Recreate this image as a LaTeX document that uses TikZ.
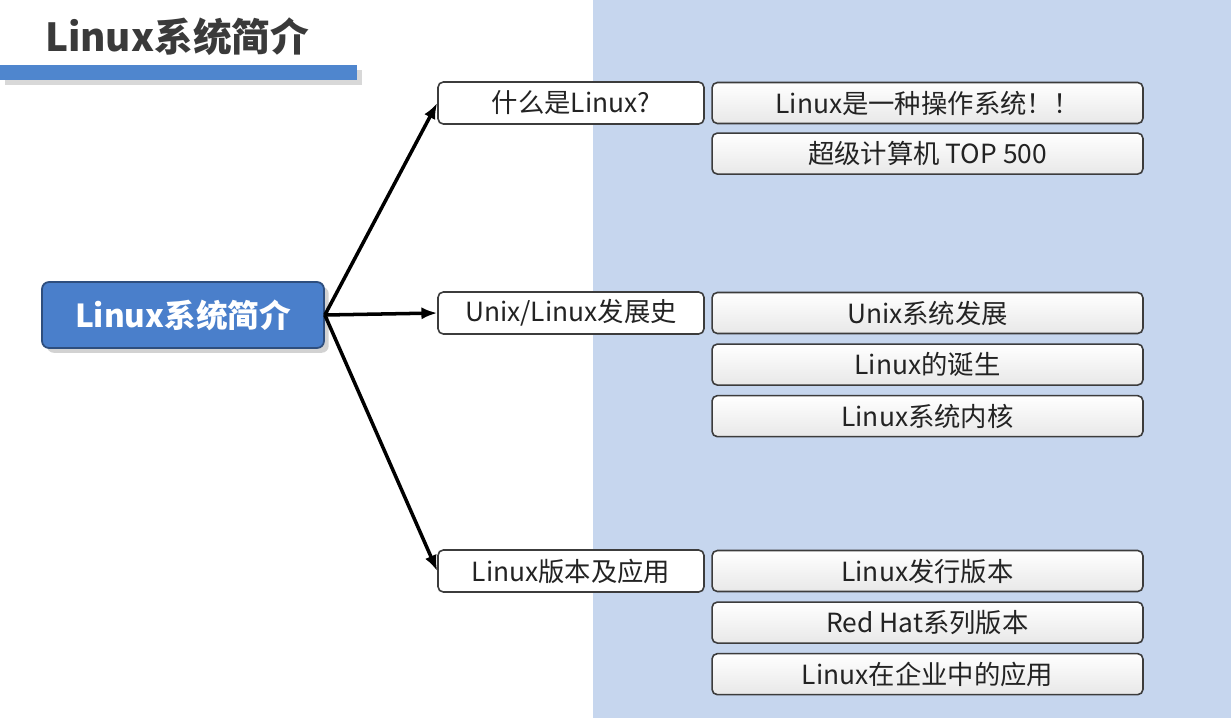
\documentclass[tikz,border=0pt]{standalone}
\usepackage{fontspec}
\setmainfont{Noto Sans CJK SC}
\usepackage{xcolor}
\usetikzlibrary{positioning, arrows.meta, shadows}

\definecolor{panelblue}{HTML}{C6D6EE}
\definecolor{barblue}{HTML}{4F86CE}
\definecolor{rootblue}{HTML}{4A7FCB}
\definecolor{rootedge}{HTML}{2E4E7E}
\definecolor{boxedge}{HTML}{3C3C3C}
\definecolor{boxtext}{HTML}{232323}
\definecolor{titlegrey}{HTML}{3A3A3A}

\begin{document}
\begin{tikzpicture}[x=0.02cm, y=-0.02cm,
    rootbox/.style={draw=rootedge, line width=1pt, fill=rootblue, rounded corners=4pt,
        minimum width=5.64cm, minimum height=1.32cm, text=white,
        font=\fontsize{18}{22}\selectfont\bfseries, drop shadow={opacity=0.35}},
    topicbox/.style={draw=boxedge, line width=0.9pt, fill=white, rounded corners=3pt,
        minimum width=5.32cm, minimum height=0.84cm, text=boxtext,
        font=\fontsize{15}{18}\selectfont},
    detailbox/.style={draw=boxedge, line width=0.9pt, top color=white, bottom color=black!9,
        rounded corners=3pt, minimum width=8.62cm, minimum height=0.82cm, text=boxtext,
        font=\fontsize{15}{18}\selectfont},
    link/.style={-{Latex[length=9pt, width=7pt]}, line width=2pt, black}]

    \useasboundingbox (0,0) rectangle (1231,718);

    % Background
    \fill[white] (0,0) rectangle (1231,718);
    \fill[panelblue] (593,0) rectangle (1231,718);

    % Title
    \node[font=\fontsize{22}{26}\selectfont\bfseries, text=titlegrey] (title) at (177,37) {Linux系统简介};
    \path[fill=barblue, drop shadow={opacity=0.3}] (0,65) rectangle (357,80);

    % Root
    \node[rootbox] (root) at (183,315) {Linux系统简介};

    % Topics
    \node[topicbox] (what) at (571,103) {什么是Linux?};
    \node[topicbox] (hist) at (571,313) {Unix/Linux发展史};
    \node[topicbox] (dist) at (571,571) {Linux版本及应用};

    % Details
    \node[detailbox] (what1) at (927.5,103) {Linux是一种操作系统！！};
    \node[detailbox, below=0.16cm of what1] (what2) {超级计算机 TOP 500};

    \node[detailbox] (hist1) at (927.5,313) {Unix系统发展};
    \node[detailbox, below=0.18cm of hist1] (hist2) {Linux的诞生};
    \node[detailbox, below=0.18cm of hist2] (hist3) {Linux系统内核};

    \node[detailbox] (dist1) at (927.5,571) {Linux发行版本};
    \node[detailbox, below=0.18cm of dist1] (dist2) {Red Hat系列版本};
    \node[detailbox, below=0.18cm of dist2] (dist3) {Linux在企业中的应用};

    % Arrows
    \draw[link] (root.east) -- (what.west);
    \draw[link] (root.east) -- (hist.west);
    \draw[link] (root.east) -- (dist.west);
\end{tikzpicture}
\end{document}
